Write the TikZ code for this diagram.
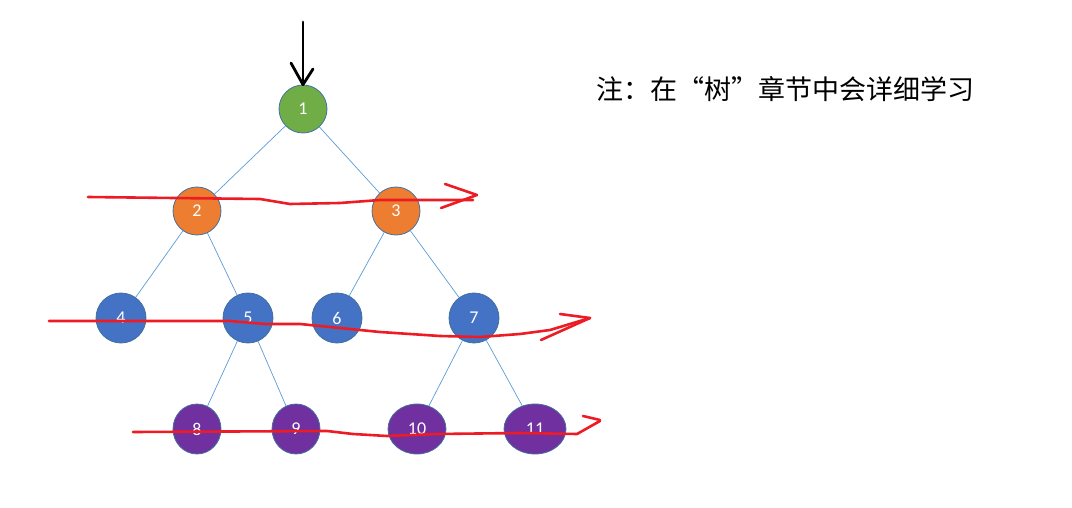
\documentclass[tikz,border=0pt]{standalone}
\usepackage{fontspec}
\setmainfont{Carlito}
\newfontfamily\cjk{Noto Sans CJK SC}
\usepackage{xcolor}
\usetikzlibrary{arrows.meta, shapes.geometric}
\definecolor{leafgreen}{HTML}{70AD47}
\definecolor{levelorange}{HTML}{ED7D31}
\definecolor{levelblue}{HTML}{4472C4}
\definecolor{levelpurple}{HTML}{7030A0}
\definecolor{ringblue}{HTML}{41719C}
\definecolor{edgeblue}{HTML}{5B9BD5}
\definecolor{penred}{HTML}{ED1C24}
\tikzset{
    treenode/.style={ellipse, draw=ringblue, line width=0.8pt, inner sep=0pt,
        minimum width=48pt, minimum height=48pt, text=white,
        font=\fontsize{18}{18}\selectfont},
    treeedge/.style={draw=edgeblue, line width=0.7pt},
    penline/.style={draw=penred, line width=2.6pt, line join=round, line cap=round}
}

\begin{document}
\begin{tikzpicture}[x=1pt, y=-1pt]
    \useasboundingbox (0,0) rectangle (1072,508);
    % Level 0
    \node[treenode, fill=leafgreen] (n1) at (303,109) {1};
    % Level 1
    \node[treenode, fill=levelorange] (n2) at (197,211) {2};
    \node[treenode, fill=levelorange] (n3) at (396,211) {3};
    % Level 2
    \node[treenode, fill=levelblue, minimum width=50pt, minimum height=50pt] (n4) at (121,318) {4};
    \node[treenode, fill=levelblue, minimum width=50pt, minimum height=50pt] (n5) at (248,318) {5};
    \node[treenode, fill=levelblue, minimum width=50pt, minimum height=50pt] (n6) at (337,318) {6};
    \node[treenode, fill=levelblue, minimum width=50pt, minimum height=50pt] (n7) at (474,318) {7};
    % Level 3
    \node[treenode, fill=levelpurple, minimum height=50pt] (n8) at (197,429) {8};
    \node[treenode, fill=levelpurple, minimum height=50pt] (n9) at (296,429) {9};
    \node[treenode, fill=levelpurple, minimum width=58pt, minimum height=50pt] (n10) at (417,429) {10};
    \node[treenode, fill=levelpurple, minimum width=62pt, minimum height=50pt] (n11) at (535,429) {11};
    % Edges
    \draw[treeedge] (n1) -- (n2);
    \draw[treeedge] (n1) -- (n3);
    \draw[treeedge] (n2) -- (n4);
    \draw[treeedge] (n2) -- (n5);
    \draw[treeedge] (n3) -- (n6);
    \draw[treeedge] (n3) -- (n7);
    \draw[treeedge] (n5) -- (n8);
    \draw[treeedge] (n5) -- (n9);
    \draw[treeedge] (n7) -- (n10);
    \draw[treeedge] (n7) -- (n11);
    % Entry arrow
    \coordinate (entry) at (303,22);
    \draw[line width=2.8pt, line cap=round] (entry) -- (n1.north);
    \draw[line width=2.8pt, line cap=round, line join=round]
        (291,63) -- (n1.north) -- (313,69);
    % Red level-order strokes
    \draw[penline] (88,197) -- (260,199) -- (290,204) -- (340,203) -- (380,200) -- (473,200);
    \draw[penline] (445,184) -- (477,195) -- (441,208);
    \draw[penline] (49,321) -- (230,321) -- (265,324) -- (300,324) -- (340,328) -- (380,332)
        -- (440,336) -- (480,337) -- (520,334) -- (550,330) -- (590,318);
    \draw[penline] (560,314) -- (590,318) -- (541,340);
    \draw[penline] (133,432) -- (327,431) -- (353,434) -- (387,436) -- (437,434) -- (520,433)
        -- (577,434) -- (600,421);
    \draw[penline] (583,416) -- (600,420);
    % Note
    \node[font=\cjk\fontsize{27}{27}\selectfont, anchor=west] (note) at (593,89) {注：在“树”章节中会详细学习};
\end{tikzpicture}
\end{document}
